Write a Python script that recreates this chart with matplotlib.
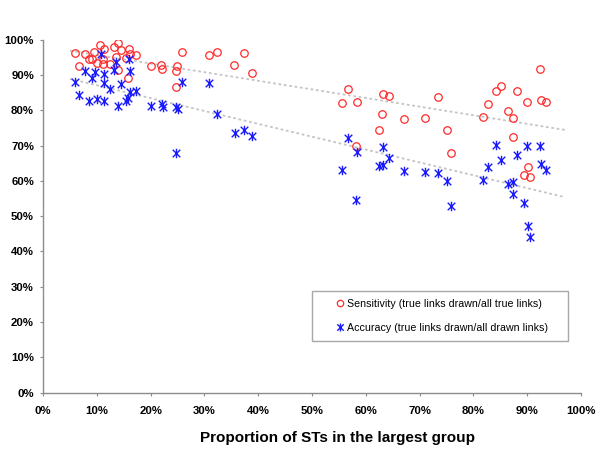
import numpy as np
import matplotlib
matplotlib.use("Agg")
import matplotlib.pyplot as plt
from matplotlib.path import Path
from matplotlib.ticker import MultipleLocator, FuncFormatter

# ---- data (percent) ----
sens_x = [6.04, 6.60, 7.81, 8.49, 9.16, 9.54, 10.09, 10.59, 11.39, 11.21, 11.19, 12.49,
          13.20, 13.94, 13.62, 14.55, 15.95, 15.37, 16.13, 17.23, 13.88, 15.74, 20.07,
          21.93, 22.17, 24.94, 24.80, 24.67, 25.84, 30.86, 32.29, 35.56, 37.42, 38.85,
          56.75, 55.63, 58.42, 63.20, 64.26, 63.07, 62.51, 58.18, 67.16, 70.95, 73.42,
          75.15, 75.78, 81.84, 82.66, 84.14, 85.13, 88.05, 86.43, 87.36, 87.31, 89.91,
          92.38, 92.57, 93.44, 90.15, 89.41, 90.58]
sens_y = [96.1, 92.6, 96.0, 94.6, 94.4, 96.4, 93.5, 98.6, 97.3, 94.6, 93.2, 93.2,
          98.0, 99.2, 95.0, 97.0, 97.3, 94.9, 95.9, 95.7, 91.4, 89.2, 92.6,
          92.8, 91.6, 92.6, 91.1, 86.7, 96.4, 95.6, 96.4, 92.9, 96.1, 90.5,
          86.1, 82.1, 82.4, 84.7, 84.1, 79.0, 74.3, 69.8, 77.6, 77.9, 83.7,
          74.4, 68.0, 78.2, 81.8, 85.6, 86.8, 85.6, 79.7, 77.7, 72.4, 82.4,
          91.8, 83.0, 82.4, 64.0, 61.7, 61.1]

acc_x = [6.04, 6.60, 7.84, 8.55, 9.16, 9.70, 10.09, 10.69, 11.25, 11.39, 11.39, 12.51,
         13.20, 13.66, 13.90, 14.54, 15.39, 15.74, 15.93, 16.21, 16.26, 17.25, 20.07,
         22.08, 22.25, 24.72, 25.09, 25.84, 24.72, 30.86, 32.29, 35.63, 37.42, 38.85,
         56.75, 58.42, 55.63, 58.18, 63.14, 64.26, 62.51, 63.25, 67.16, 70.95, 73.42,
         75.15, 75.78, 81.84, 82.66, 84.14, 85.13, 88.05, 86.49, 87.42, 87.31, 89.91,
         92.38, 92.57, 93.44, 89.46, 90.15, 90.58]
acc_y = [87.9, 84.3, 91.1, 82.6, 89.2, 90.8, 83.1, 95.9, 82.6, 90.4, 87.6, 86.1,
         91.4, 93.7, 81.3, 87.4, 82.6, 83.6, 94.4, 91.0, 85.2, 85.6, 81.3,
         81.7, 81.0, 80.9, 80.3, 88.0, 67.8, 87.6, 79.0, 73.7, 74.3, 72.7,
         72.2, 68.2, 63.0, 54.7, 69.5, 66.5, 64.3, 64.5, 62.8, 62.6, 62.3,
         60.0, 52.9, 60.2, 63.9, 70.3, 66.0, 67.3, 59.1, 59.8, 56.3, 70.0,
         70.0, 64.7, 63.2, 53.7, 47.2, 44.0]

sens_label = "Sensitivity (true links drawn/all true links)"
acc_label = "Accuracy (true links drawn/all drawn links)"
x_title = "Proportion of STs in the largest group"
trend_range = [5, 97]

plt.rcParams['font.family'] = ['Liberation Sans', 'DejaVu Sans']

fig = plt.figure(figsize=(6, 4.5), dpi=100)
ax = fig.add_axes([43/600, 1-392.7/450, 538/600, 353/450])

# star marker: vertical bar + X
star = Path([(0, -1), (0, 1), (-0.8, -0.8), (0.8, 0.8), (-0.8, 0.8), (0.8, -0.8)],
            [Path.MOVETO, Path.LINETO, Path.MOVETO, Path.LINETO, Path.MOVETO, Path.LINETO])

# trend lines
tx = np.array(trend_range, dtype=float)
for xs, ys in ((sens_x, sens_y), (acc_x, acc_y)):
    k, b = np.polyfit(xs, ys, 1)
    ax.plot(tx, k*tx + b, color='#c4c4c4', lw=1.3, ls=(0, (1.5, 1.5)), zorder=1)

ax.plot(sens_x, sens_y, ls='none', marker='o', ms=5.4, mfc='none', mec='#ff2a2a',
        mew=0.9, label=sens_label, zorder=3)
ax.plot(acc_x, acc_y, ls='none', marker=star, ms=6.8, mfc='none', mec='#1a1aff',
        mew=1.0, label=acc_label, zorder=3)

ax.set_xlim(0, 100)
ax.set_ylim(0, 100)
ax.xaxis.set_major_locator(MultipleLocator(10))
ax.yaxis.set_major_locator(MultipleLocator(10))
pct = FuncFormatter(lambda v, p: f"{v:.0f}%")
ax.xaxis.set_major_formatter(pct)
ax.yaxis.set_major_formatter(pct)
for s in ('top', 'right'):
    ax.spines[s].set_visible(False)
for s in ('left', 'bottom'):
    ax.spines[s].set_color('#8c8c8c')
    ax.spines[s].set_linewidth(1.0)
ax.tick_params(axis='both', direction='out', length=2.5, width=0.8, color='#8c8c8c',
               labelsize=8.2)
ax.tick_params(axis='x', pad=7)
ax.tick_params(axis='y', pad=4)
for lab in ax.get_xticklabels() + ax.get_yticklabels():
    lab.set_fontweight('bold')

ax.set_xlabel(x_title, fontsize=11, fontweight='bold')
ax.xaxis.set_label_coords((337.3-43)/538, -(437.7-392.7)/353)
ax.xaxis.label.set_verticalalignment('center')

leg = ax.legend(loc='center left',
                bbox_to_anchor=(312.3/600, 1-316/450, 255.4/600, 0.0),
                bbox_transform=fig.transFigure, mode='expand',
                fontsize=7.7, frameon=True, fancybox=False, framealpha=1,
                edgecolor='#a8a8a8', borderpad=0.72, labelspacing=1.33,
                handlelength=3.75, handletextpad=-1.25, numpoints=1, markerscale=0.85,
                borderaxespad=0)
leg.get_frame().set_linewidth(1.0)

fig.savefig("out.png", dpi=100)
